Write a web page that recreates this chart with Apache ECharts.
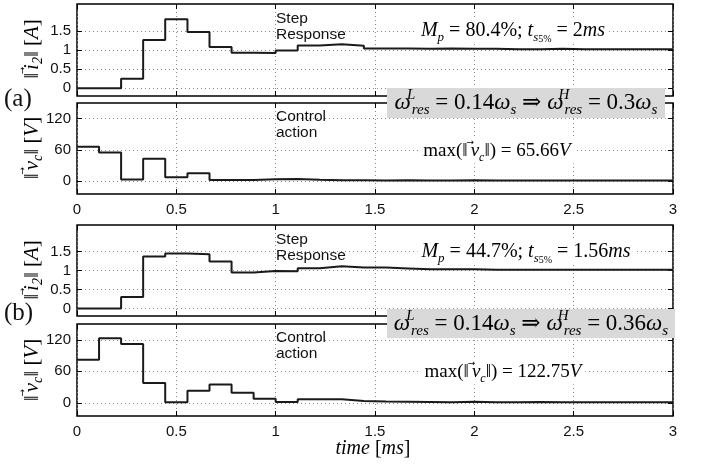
<!DOCTYPE html>
<html><head><meta charset="utf-8">
<script src="https://cdn.jsdelivr.net/npm/echarts@6/dist/echarts.min.js"></script>
<style>html,body{margin:0;padding:0;background:#fff}#c{width:702px;height:468px}</style>
</head><body><div id="c"></div>
<script>
// sample instants (ms), zero-order hold
const sampleTimes = [0,0.111,0.222,0.333,0.444,0.556,0.667,0.778,0.889,1.0,1.111,1.222,1.333,1.444,1.556,1.667,1.778,1.889,2.0,2.111,2.222,2.333,2.444,2.556,2.667,2.778,2.889,3.0];
const stepA = [0,0,0.25,1.26,1.804,1.47,1.08,0.93,0.92,0.99,1.12,1.15,1.11,1.04,1.04,1.03,1.04,1.03,1.03,1.02,1.02,1.03,1.02,1.02,1.02,1.02,1.02];
const controlA = [65.66,55,3,43,7,15,2,2,3.5,4,2.5,1.5,1.5,1,1.5,1,1,1.5,1,1,1,1,1,1,1,1,1];
const stepB = [0,0,0.3,1.37,1.447,1.43,1.24,0.95,0.99,0.98,1.06,1.11,1.08,1.08,1.055,1.03,1.03,1.03,1.02,1.02,1.02,1.02,1.02,1.02,1.02,1.02,1.02];
const controlB = [82,122.75,112,38,1,23,35,19,8,1.5,7,7,3.5,2.5,2,1.5,1,2,1,1,1.5,1,1,1,1,1,1];
const xTicks = [0,0.5,1,1.5,2,2.5,3];
const stepTicks = [0,0.5,1,1.5];
const controlTicks = [0,60,120];

const SERIF = '"Liberation Serif","DejaVu Serif",serif';
const SANS = '"Liberation Sans",Arial,sans-serif';

function mathRich(size){
  const sub = Math.round(size*0.65), lh = Math.round(size*1.3);
  return {
    n:{fontFamily:SERIF,fontSize:size,fontStyle:'normal',lineHeight:lh,color:'#111'},
    i:{fontFamily:SERIF,fontSize:size,fontStyle:'italic',lineHeight:lh,color:'#111'},
    s:{fontFamily:SERIF,fontSize:sub,fontStyle:'italic',lineHeight:sub,verticalAlign:'bottom',color:'#111'},
    ss:{fontFamily:SERIF,fontSize:Math.round(size*0.5),fontStyle:'normal',lineHeight:Math.round(size*0.3),verticalAlign:'bottom',color:'#111'},
    sup:{fontFamily:SERIF,fontSize:sub,fontStyle:'italic',lineHeight:sub,verticalAlign:'top',width:1,color:'#111'},
    arr:{fontFamily:'"DejaVu Sans",sans-serif',fontSize:Math.round(size*0.45),lineHeight:Math.round(size*0.5),verticalAlign:'top',width:1,color:'#111',padding:[0,0,0,2]}
  };
}

function toData(vals){ return sampleTimes.map((t,i)=>[t, vals[Math.min(i, vals.length-1)]]); }

const gridsPos = [{top:4,height:92},{top:103,height:91},{top:225,height:91},{top:324,height:92}];
const grid = gridsPos.map(g=>({left:77,right:29,top:g.top,height:g.height,show:true,borderColor:'#000',borderWidth:1.5,
  backgroundColor:'transparent',outerBoundsMode:'none',containLabel:false}));

const tickStyle = {show:true,inside:true,length:5,lineStyle:{color:'#000',width:1}};
const split = {show:true,lineStyle:{type:[1,3],color:'#888',width:1}};
const labelStyle = {fontFamily:SANS,fontSize:15,color:'#111'};

const xAxis = [];
for(let k=0;k<4;k++){
  xAxis.push({type:'value',gridIndex:k,min:0,max:3,interval:0.5,position:'bottom',
    axisLine:{show:false,onZero:false},axisTick:tickStyle,splitLine:split,
    axisLabel:Object.assign({show:(k===1||k===3),margin:8,formatter:v=>String(v)},labelStyle)});
}
for(let k=0;k<4;k++){
  xAxis.push({type:'value',gridIndex:k,min:0,max:3,interval:0.5,position:'top',
    axisLine:{show:false,onZero:false},axisTick:tickStyle,splitLine:{show:false},axisLabel:{show:false}});
}
const nameI = '{n|‖}{arr|→}{i|i}{s|2}{n|‖ [}{i|A}{n|]}';
const nameV = '{n|‖}{arr|→}{i|v}{s|c}{n|‖ [}{i|V}{n|]}';
const yNames = [nameI,nameV,nameI,nameV];
const yRanges = [[-0.2,2.2,stepTicks],[-25,150,controlTicks],[-0.2,2.2,stepTicks],[-25,150,controlTicks]];
const yAxis = [];
for(let k=0;k<4;k++){
  const r = yRanges[k];
  yAxis.push({type:'value',gridIndex:k,min:r[0],max:r[1],position:'left',
    axisLine:{show:false,onZero:false},
    axisTick:Object.assign({},tickStyle,{customValues:r[2]}),
    splitLine:split,
    axisLabel:Object.assign({margin:6,customValues:r[2],formatter:v=>String(v)},labelStyle)});
}
for(let k=0;k<4;k++){
  const r = yRanges[k];
  yAxis.push({type:'value',gridIndex:k,min:r[0],max:r[1],position:'right',
    axisLine:{show:false,onZero:false},
    axisTick:Object.assign({},tickStyle,{customValues:r[2]}),
    splitLine:{show:false},axisLabel:{show:false}});
}

const seriesVals = [stepA,controlA,stepB,controlB];
const series = seriesVals.map((v,k)=>({type:'line',xAxisIndex:k,yAxisIndex:k,step:'end',showSymbol:false,
  data:toData(v),lineStyle:{color:'#1a1a1a',width:2},itemStyle:{color:'#1a1a1a'},animation:false,z:3}));

function mtext(txt,x,y,size,bg,z,rot){
  return {type:'text',z:z||20,x:x,y:y,rotation:rot||0,style:{text:txt,rich:mathRich(size),align:'center',verticalAlign:'middle',
    backgroundColor:bg||'transparent',padding:[0,4]}};
}
function stext(txt,x,y){
  return {type:'text',z:20,x:x,y:y,style:{text:txt,fontFamily:SANS,fontSize:15.5,lineHeight:16.5,fill:'#111',align:'left',verticalAlign:'top'}};
}
const graphic = [
  {type:'text',z:20,x:4,y:99,style:{text:'(a)',fontFamily:SERIF,fontSize:25,fill:'#111',align:'left',verticalAlign:'middle'}},
  {type:'text',z:20,x:4,y:313,style:{text:'(b)',fontFamily:SERIF,fontSize:25,fill:'#111',align:'left',verticalAlign:'middle'}},
  stext('Step\nResponse',276,10),
  stext('Control\naction',276,108),
  stext('Step\nResponse',276,231),
  stext('Control\naction',276,329),
  mtext('{i|M}{s|p}{n| = 80.4%; }{i|t}{s|s}{ss|5%}{n| = 2}{i|ms}',513,31,20,'#fff'),
  mtext('{i|M}{s|p}{n| = 44.7%; }{i|t}{s|s}{ss|5%}{n| = 1.56}{i|ms}',526,252,20,'#fff'),
  mtext('{n|max(‖}{arr|→}{i|v}{s|c}{n|‖) = 65.66}{i|V}',497,151,19,'#fff'),
  mtext('{n|max(‖}{arr|→}{i|v}{s|c}{n|‖) = 122.75}{i|V}',503,372,19,'#fff'),
  {type:'rect',z:30,shape:{x:387,y:88,width:278,height:30},style:{fill:'#d9d9d9'}},
  mtext('{i|ω}{sup|L}{s|res}{n| = 0.14}{i|ω}{s|s}{n| ⇒ }{i|ω}{sup|H}{s|res}{n| = 0.3}{i|ω}{s|s}',526,103,23,null,31),
  {type:'rect',z:30,shape:{x:387,y:309,width:288,height:29},style:{fill:'#d9d9d9'}},
  mtext('{i|ω}{sup|L}{s|res}{n| = 0.14}{i|ω}{s|s}{n| ⇒ }{i|ω}{sup|H}{s|res}{n| = 0.36}{i|ω}{s|s}',531,323.5,23,null,31),
  mtext('{i|time }{n|[}{i|ms}{n|]}',373,449,20),
  mtext(yNames[0],32,49,21,null,20,Math.PI/2),
  mtext(yNames[1],32,148,21,null,20,Math.PI/2),
  mtext(yNames[2],32,270,21,null,20,Math.PI/2),
  mtext(yNames[3],32,370,21,null,20,Math.PI/2)
];

const chart = echarts.init(document.getElementById('c'),null,{renderer:'canvas'});
chart.setOption({animation:false,grid:grid,xAxis:xAxis,yAxis:yAxis,series:series,graphic:graphic});
</script></body></html>
